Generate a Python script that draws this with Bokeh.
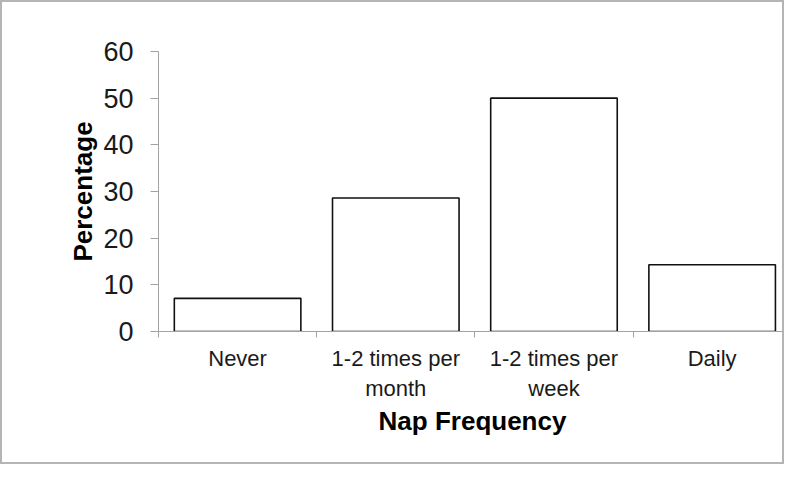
from bokeh.plotting import figure
from bokeh.models import ColumnDataSource, Range1d, FixedTicker
from bokeh.embed import file_html
from bokeh.resources import INLINE

categories = ["Never", "1-2 times per\nmonth", "1-2 times per\nweek", "Daily"]
percentages = [7.1, 28.6, 50.0, 14.3]
y_ticks = [0, 10, 20, 30, 40, 50, 60]

centers = [i + 0.5 for i in range(len(categories))]
bounds = [i for i in range(len(categories) + 1)]

src = ColumnDataSource(dict(x=centers, top=percentages))

FONT = "Liberation Sans"
AXIS_COLOR = "#a3a3a3"

p = figure(width=784, height=464, output_backend="svg", toolbar_location=None,
           x_range=Range1d(0, 3.97), y_range=Range1d(0, 60),
           min_border_left=156, min_border_right=0, min_border_top=49, min_border_bottom=135)
p.styles = {"border": "2px solid #b4b4b4", "box-sizing": "border-box"}
p.outline_line_color = None
p.grid.grid_line_color = None
p.background_fill_color = "white"
p.border_fill_color = "white"

p.vbar(x="x", top="top", bottom=0, width=0.8, source=src,
       fill_color="white", line_color="#111111", line_width=1.6)

# y axis
ya = p.yaxis[0]
ya.ticker = FixedTicker(ticks=y_ticks, minor_ticks=[])
ya.axis_line_color = AXIS_COLOR
ya.major_tick_line_color = AXIS_COLOR
ya.major_tick_in = 0
ya.major_tick_out = 8
ya.minor_tick_line_color = None
ya.major_label_text_font = FONT
ya.major_label_text_font_size = "27px"
ya.major_label_text_color = "#1a1a1a"
ya.major_label_standoff = 17
ya.axis_label = "Percentage"
ya.axis_label_text_font = FONT
ya.axis_label_text_font_size = "26px"
ya.axis_label_text_font_style = "bold"
ya.axis_label_text_color = "#000000"
ya.axis_label_standoff = 2

# x axis
xa = p.xaxis[0]
xa.ticker = FixedTicker(ticks=centers, minor_ticks=bounds)
xa.major_label_overrides = {c: lab for c, lab in zip(centers, categories)}
xa.axis_line_color = AXIS_COLOR
xa.major_tick_line_color = None
xa.major_tick_in = 0
xa.major_tick_out = 0
xa.minor_tick_line_color = AXIS_COLOR
xa.minor_tick_in = 0
xa.minor_tick_out = 6
xa.major_label_text_font = FONT
xa.major_label_text_font_size = "22px"
xa.major_label_text_color = "#1a1a1a"
xa.major_label_standoff = 8
xa.axis_label = "Nap Frequency"
xa.axis_label_text_font = FONT
xa.axis_label_text_font_size = "26px"
xa.axis_label_text_font_style = "bold"
xa.axis_label_text_color = "#000000"
xa.axis_label_standoff = 2

open("out.html", "w").write(file_html(p, INLINE))
